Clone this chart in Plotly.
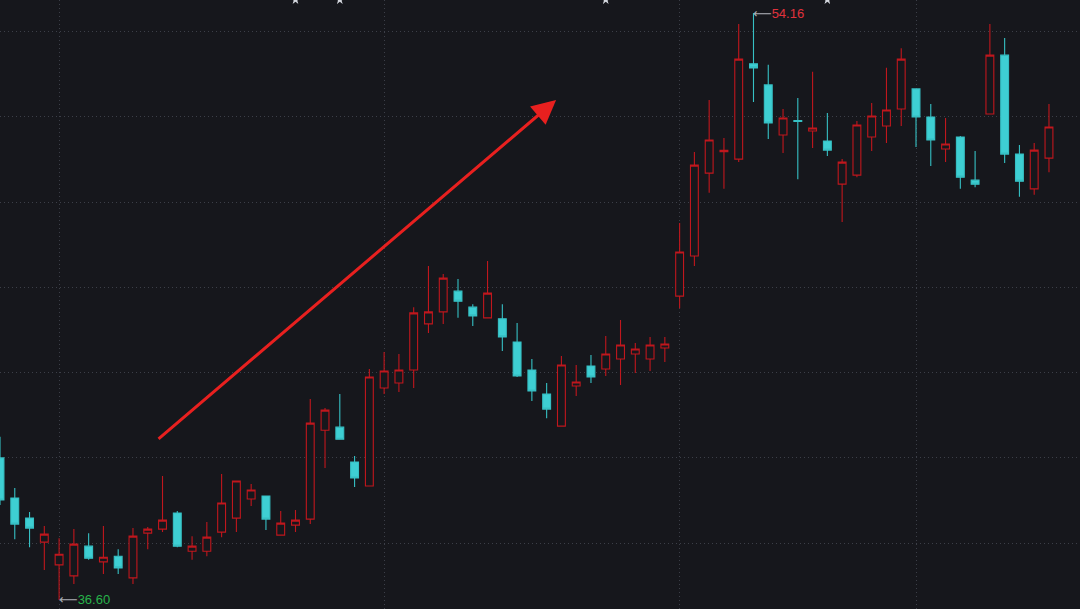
import plotly.graph_objects as go

# ---- data ----
opens = [40.85, 39.65, 39.05, 38.33, 37.65, 37.32, 38.21, 37.74, 37.91, 37.26,
         38.60, 38.72, 39.20, 38.06, 38.06, 38.63, 39.05, 39.62, 39.71, 38.54,
         38.84, 39.02, 41.68, 41.77, 40.73, 40.01, 42.94, 43.09, 43.48, 44.86,
         45.22, 45.84, 45.36, 45.04, 45.01, 44.32, 43.48, 42.76, 41.80, 43.00,
         43.60, 43.51, 43.81, 43.96, 43.81, 44.14, 45.69, 46.89, 49.37, 50.01,
         49.79, 52.64, 52.01, 50.51, 50.94, 50.63, 50.33, 49.04, 49.31, 50.45,
         50.78, 51.29, 51.89, 51.05, 50.09, 50.45, 49.16, 51.14, 52.90, 49.94,
         48.90, 49.82]
highs = [41.48, 39.95, 39.23, 38.81, 38.45, 38.72, 38.60, 38.81, 38.12, 38.75,
         38.78, 40.31, 39.26, 38.51, 38.93, 40.37, 40.16, 40.07, 39.71, 39.26,
         39.29, 42.61, 42.34, 42.76, 40.91, 43.51, 44.02, 43.96, 45.36, 46.59,
         46.35, 46.20, 45.45, 46.74, 45.45, 44.89, 43.81, 43.09, 43.90, 43.63,
         43.93, 44.50, 44.98, 44.29, 44.47, 44.47, 47.88, 50.00, 51.56, 50.42,
         53.83, 54.16, 52.61, 51.29, 51.62, 52.40, 51.17, 49.79, 50.93, 51.47,
         52.52, 53.11, 51.89, 51.44, 51.02, 50.48, 50.03, 53.83, 53.41, 50.21,
         50.27, 51.44]
lows = [39.44, 38.42, 38.18, 37.50, 36.60, 37.08, 37.80, 37.38, 37.38, 37.08,
        38.12, 38.63, 38.18, 37.80, 37.91, 38.48, 38.63, 39.41, 38.69, 38.54,
        38.63, 38.87, 40.55, 41.41, 39.98, 40.01, 42.76, 42.82, 42.94, 44.59,
        44.86, 45.04, 44.80, 45.04, 44.05, 43.27, 42.55, 42.04, 41.80, 42.70,
        43.09, 43.30, 43.03, 43.39, 43.45, 43.72, 45.33, 46.59, 48.78, 48.90,
        49.70, 51.50, 50.39, 49.97, 49.19, 50.12, 49.88, 47.91, 49.25, 50.03,
        50.27, 50.78, 50.15, 49.58, 49.70, 48.90, 48.95, 51.14, 49.67, 48.66,
        48.72, 49.40]
closes = [39.59, 38.87, 38.75, 38.57, 37.97, 38.27, 37.85, 37.88, 37.56, 38.51,
          38.72, 38.99, 38.21, 38.21, 38.48, 39.50, 40.16, 39.89, 39.02, 38.90,
          38.99, 41.89, 42.28, 41.41, 40.25, 43.27, 43.45, 43.48, 45.19, 45.22,
          46.23, 45.54, 45.10, 45.78, 44.47, 43.30, 42.85, 42.31, 43.63, 43.12,
          43.27, 43.96, 44.23, 44.11, 44.23, 44.26, 47.01, 49.61, 50.36, 50.05,
          52.78, 52.52, 50.87, 51.02, 50.92, 50.72, 50.06, 49.70, 50.81, 51.08,
          51.26, 52.78, 51.05, 50.36, 50.24, 49.25, 49.04, 52.90, 49.94, 49.13,
          50.06, 50.75]
idx = list(range(len(opens)))

# candle indices where a period boundary (vertical grid line) falls
period_starts = [4, 26, 46, 62]
# candle indices carrying small event markers at the top edge
event_idx = [20, 23, 41, 56]

# y grid
grid_tick0 = 38.30
grid_step = 2.55
y_range = [36.33, 54.55]
x_range = [0.0, 73.1]

# trend arrow (tail -> head), in data coordinates
arrow_tail = (10.63, 41.38)
arrow_head = (37.64, 51.56)

BG = "#16171c"
RED = "#c0171d"
CYAN = "#3ecfd3"
GRID = "#3c3f48"

fig = go.Figure()
fig.add_trace(go.Candlestick(
    x=idx, open=opens, high=highs, low=lows, close=closes,
    increasing=dict(line=dict(color=RED, width=1.1), fillcolor=BG),
    decreasing=dict(line=dict(color="#36c0c4", width=1.1), fillcolor=CYAN),
    whiskerwidth=0, hoverinfo="skip", showlegend=False,
))

fig.add_trace(go.Scatter(
    x=event_idx, y=[y_range[1]] * len(event_idx), mode="markers",
    marker=dict(symbol="star", size=7, color="#d5d8df"),
    hoverinfo="skip", showlegend=False, cliponaxis=True,
))

# min / max labels
i_max = max(idx, key=lambda i: highs[i])
i_min = min(idx, key=lambda i: lows[i])
ARROW = "<span style='color:#a9acb3;font-size:13px;font-family:DejaVu Sans'>⟵</span>"
fig.add_annotation(
    x=i_max, y=highs[i_max], xanchor="left", yanchor="middle", showarrow=False,
    text=ARROW + "%.2f" % highs[i_max],
    font=dict(family="Liberation Sans, Arial, sans-serif", size=13, color="#e0323c"),
    xshift=-2,
)
fig.add_annotation(
    x=i_min, y=lows[i_min], xanchor="left", yanchor="middle", showarrow=False,
    text=ARROW + "%.2f" % lows[i_min],
    font=dict(family="Liberation Sans, Arial, sans-serif", size=13, color="#27b24a"),
    xshift=-2,
)

# big trend arrow
fig.add_annotation(
    x=arrow_head[0], y=arrow_head[1], ax=arrow_tail[0], ay=arrow_tail[1],
    xref="x", yref="y", axref="x", ayref="y", text="", showarrow=True,
    arrowhead=2, arrowsize=1.6, arrowwidth=3, arrowcolor="#e8201f", standoff=0,
)

fig.update_layout(
    width=1080, height=609, margin=dict(l=0, r=0, t=0, b=0),
    paper_bgcolor=BG, plot_bgcolor=BG, showlegend=False, boxgap=0.24,
    xaxis=dict(range=x_range, rangeslider=dict(visible=False), showticklabels=False,
               tickmode="array", tickvals=period_starts, showgrid=True,
               gridcolor=GRID, griddash="1px,3px", gridwidth=1, zeroline=False,
               showline=False, ticks=""),
    yaxis=dict(range=y_range, showticklabels=False, tick0=grid_tick0, dtick=grid_step,
               showgrid=True, gridcolor=GRID, griddash="1px,3px", gridwidth=1,
               zeroline=False, showline=False, ticks=""),
)

fig.write_html(
    "out.html",
    config={"displayModeBar": False, "staticPlot": True},
    post_script="document.body.style.margin='0';document.body.style.overflow='hidden';"
                "document.body.style.background='%s';" % BG,
)
